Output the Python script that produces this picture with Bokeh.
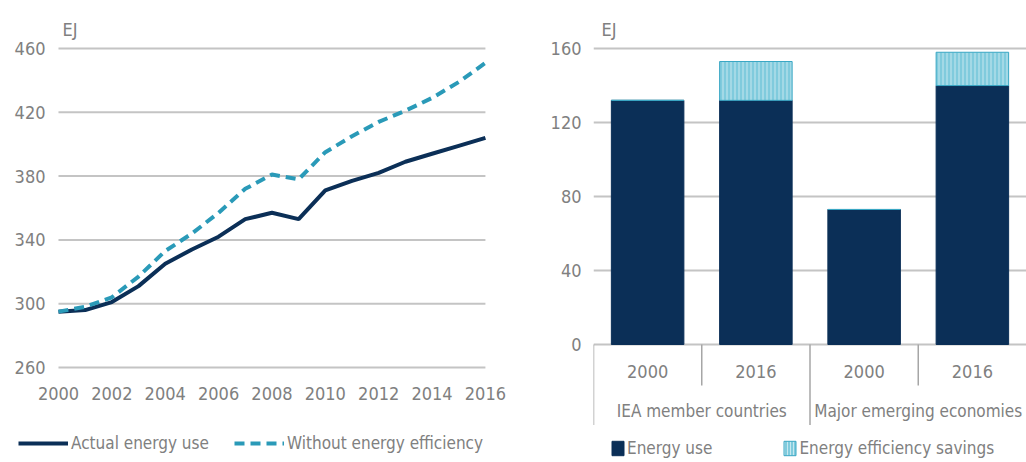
from bokeh.plotting import figure
from bokeh.models import (ColumnDataSource, FactorRange, FixedTicker, Legend, LegendItem,
                          Label, Range1d)
from bokeh.layouts import row, column
from bokeh.core.properties import value
from bokeh.embed import file_html
from bokeh.resources import INLINE

# ---------------- data ----------------
years = [2000, 2001, 2002, 2003, 2004, 2005, 2006, 2007, 2008, 2009, 2010, 2011,
         2012, 2013, 2014, 2015, 2016]
actual_energy_use = [295, 296, 301, 311, 325, 334, 342, 353, 357, 353, 371, 377,
                     382, 389, 394, 399, 404]
without_efficiency = [295, 298, 304, 317, 333, 344, 357, 372, 381, 378, 395, 405,
                      414, 421, 429, 439, 451]
left_yticks = [260, 300, 340, 380, 420, 460]
left_xticks = [2000, 2002, 2004, 2006, 2008, 2010, 2012, 2014, 2016]

groups = ["IEA member countries", "IEA member countries",
          "Major emerging economies", "Major emerging economies"]
bar_years = ["2000", "2016", "2000", "2016"]
energy_use = [132, 132, 73, 140]
efficiency_savings = [0, 21, 0, 18]
right_yticks = [0, 40, 80, 120, 160]

# ---------------- style ----------------
FONT = "DejaVu Sans Condensed"
GREY_TXT = "#808080"
GRID = "#c4c4c4"
NAVY = "#0b2f57"
TEAL = "#2a9ab8"
SAVE_FILL = "#80cbdd"
SAVE_LINE = "#3aa7c4"

# ---------------- left chart ----------------
# the frame covers the tick-label areas too; grid lines and tick labels are
# drawn from the tick arrays so both charts share the same frame height
p1 = figure(width=528, height=425, output_backend="svg", toolbar_location=None,
            x_range=Range1d(1998.127, 2016.94), y_range=Range1d(223.6, 482.6),
            x_axis_location=None, y_axis_location=None,
            min_border_left=8, min_border_right=18, min_border_top=12,
            min_border_bottom=0)
p1.outline_line_color = None
p1.grid.visible = False

# horizontal grid lines spanning the year span only
p1.segment(x0=[years[0]] * len(left_yticks), x1=[years[-1]] * len(left_yticks),
           y0=left_yticks, y1=left_yticks, line_color=GRID, line_width=2)
# value tick labels left of the first year
p1.text(x=[years[0]] * len(left_yticks), y=left_yticks,
        text=[str(t) for t in left_yticks], x_offset=-13,
        text_font=value(FONT), text_font_size="18px", text_color=GREY_TXT,
        text_align="right", text_baseline="middle")
# year tick labels under the lowest grid line
p1.text(x=left_xticks, y=[left_yticks[0]] * len(left_xticks),
        text=[str(t) for t in left_xticks], y_offset=26,
        text_font=value(FONT), text_font_size="18px", text_color=GREY_TXT,
        text_align="center", text_baseline="middle")

src1 = ColumnDataSource(dict(year=years, actual=actual_energy_use, without=without_efficiency))
p1.line("year", "actual", source=src1, line_color=NAVY, line_width=4)
p1.line("year", "without", source=src1, line_color=TEAL, line_width=4, line_dash="10 6")

p1.add_layout(Label(x=2000, y=460, x_offset=4, y_offset=19, text="EJ",
                    text_font=FONT, text_font_size="18px", text_color=GREY_TXT,
                    text_baseline="alphabetic"))

# ---------------- right chart ----------------
factors = list(zip(groups, bar_years))
xr = FactorRange(*factors, factor_padding=0, group_padding=0, range_padding=0)
Y_BOTTOM = -43.8
p2 = figure(width=498, height=425, output_backend="svg", toolbar_location=None,
            x_range=xr, y_range=Range1d(Y_BOTTOM, 179.5), x_axis_location=None,
            min_border_left=65, min_border_right=0, min_border_top=12,
            min_border_bottom=0)
p2.outline_line_color = None
p2.xgrid.visible = False
p2.ygrid.ticker = FixedTicker(ticks=right_yticks)
p2.ygrid.grid_line_color = GRID
p2.ygrid.grid_line_width = 2
ya = p2.yaxis[0]
ya.ticker = FixedTicker(ticks=right_yticks)
ya.axis_line_color = None
ya.major_tick_line_color = None
ya.minor_tick_line_color = None
ya.major_label_text_font = FONT
ya.major_label_text_font_size = "18px"
ya.major_label_text_color = GREY_TXT
ya.major_label_standoff = 6

totals = [e + s for e, s in zip(energy_use, efficiency_savings)]
src2 = ColumnDataSource(dict(x=factors, use=energy_use, total=totals))
p2.vbar(x="x", top="use", bottom=0, width=0.67, source=src2,
        fill_color=NAVY, line_color=NAVY)
p2.vbar(x="x", top="total", bottom="use", width=0.67, source=src2,
        fill_color=SAVE_FILL, line_color=SAVE_LINE, line_width=1,
        hatch_pattern="vertical_line", hatch_color="white",
        hatch_alpha=0.55, hatch_scale=4, hatch_weight=1)

# category labels under the zero line
p2.text(x=factors, y=[-14.6] * len(factors), text=bar_years,
        text_font=value(FONT), text_font_size="18px", text_color=GREY_TXT,
        text_align="center", text_baseline="middle")
top_groups = list(dict.fromkeys(groups))
p2.text(x=top_groups, y=[-35.7] * len(top_groups), text=top_groups,
        text_font=value(FONT), text_font_size="17px", text_color=GREY_TXT,
        text_align="center", text_baseline="middle")

# separators between categories (long where the group changes)
sep_x, sep_y1 = [], []
for i, g in enumerate(groups):
    sep_x.append(i)
    sep_y1.append(Y_BOTTOM if (i == 0 or g != groups[i - 1]) else -22.2)
p2.segment(x0=sep_x, y0=[0] * len(sep_x), x1=sep_x, y1=sep_y1,
           line_color="#a6a6a6", line_width=1.5)

p2.add_layout(Label(x=0, y=160, x_offset=8, y_offset=19, text="EJ",
                    text_font=FONT, text_font_size="18px", text_color=GREY_TXT,
                    text_baseline="alphabetic"))

# ---------------- legend strip ----------------
lf = figure(width=1026, height=37, output_backend="svg", toolbar_location=None,
            x_range=Range1d(0, 1), y_range=Range1d(0, 1),
            x_axis_location=None, y_axis_location=None,
            min_border_left=0, min_border_right=0, min_border_top=0, min_border_bottom=0)
lf.outline_line_color = None
lf.grid.visible = False
# legend-sample renderers: their points lie outside the strip's ranges, so only
# the legend swatches are seen
off = ColumnDataSource(dict(x=[-10, -9], y=[-10, -10], top=[-10, -10]))
l_act = lf.line("x", "y", source=off, line_color=NAVY, line_width=4)
l_wo = lf.line("x", "y", source=off, line_color=TEAL, line_width=4, line_dash="10 6")
l_use = lf.vbar(x="x", top="top", width=0.5, source=off, fill_color=NAVY, line_color=NAVY)
l_sav = lf.vbar(x="x", top="top", width=0.5, source=off, fill_color=SAVE_FILL,
                line_color=SAVE_LINE, hatch_pattern="vertical_line", hatch_color="white",
                hatch_alpha=0.55, hatch_scale=3, hatch_weight=1)

common = dict(orientation="horizontal", padding=0, margin=0, border_line_color=None,
              background_fill_alpha=0, label_text_font=FONT, label_text_font_size="17px",
              label_text_color=GREY_TXT)
leg1 = Legend(items=[LegendItem(label="Actual energy use", renderers=[l_act]),
                     LegendItem(label="Without energy efficiency", renderers=[l_wo])],
              location=(18, 9), glyph_width=50, glyph_height=20, label_height=20,
              label_standoff=3, spacing=25, **common)
leg2 = Legend(items=[LegendItem(label="Energy use", renderers=[l_use]),
                     LegendItem(label="Energy efficiency savings", renderers=[l_sav])],
              location=(610, 4), glyph_width=15, glyph_height=18, label_height=18,
              label_standoff=2, spacing=70, **common)
lf.add_layout(leg1)
lf.add_layout(leg2)

layout = column(row(p1, p2), lf)
open("out.html", "w").write(file_html(layout, INLINE))
